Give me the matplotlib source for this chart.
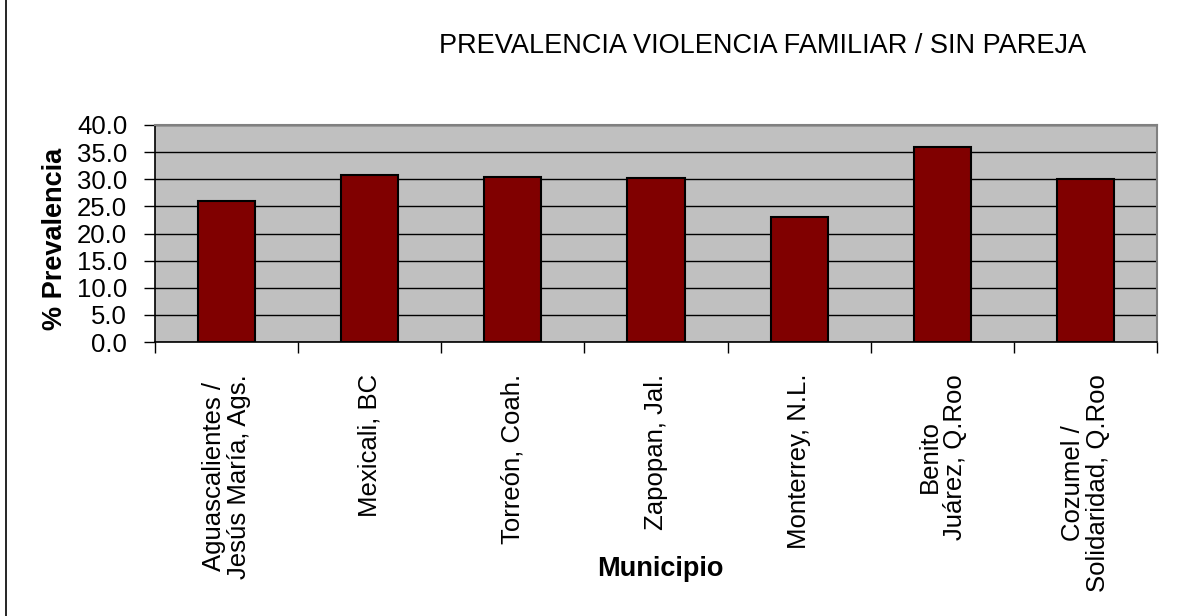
import matplotlib
matplotlib.use("Agg")
import matplotlib.pyplot as plt
from matplotlib.lines import Line2D
import numpy as np

categories = [
    "Aguascalientes /\nJesús María, Ags.",
    "Mexicali, BC",
    "Torreón, Coah.",
    "Zapopan, Jal.",
    "Monterrey, N.L.",
    "Benito\nJuárez, Q.Roo",
    "Cozumel /\nSolidaridad, Q.Roo",
]
values = [26.0, 30.8, 30.5, 30.3, 23.1, 36.0, 30.0]
yticks = [0, 5, 10, 15, 20, 25, 30, 35, 40]
ytick_labels = ["0.0", "5.0", "10.0", "15.0", "20.0", "25.0", "30.0", "35.0", "40.0"]
title = "PREVALENCIA VIOLENCIA FAMILIAR / SIN PAREJA"

plt.rcParams['font.family'] = ['Liberation Sans', 'DejaVu Sans']

W, H = 1177, 616
fig = plt.figure(figsize=(W / 100, H / 100), dpi=100)
fig.patch.set_facecolor("white")

ax = fig.add_axes([155 / W, 1 - 342 / H, (1157 - 155) / W, (342 - 125) / H])
ax.set_facecolor("#C0C0C0")

x = np.arange(len(categories))
ax.bar(x, values, width=0.4, color="#800000", edgecolor="black", linewidth=1.5, zorder=3)

ax.set_xlim(-0.5, len(categories) - 0.5)
ax.set_ylim(0, 40)
ax.set_yticks(yticks)
ax.set_yticklabels(ytick_labels, fontsize=18.5)
ax.yaxis.grid(True, color="black", linewidth=1.0, zorder=1)
ax.set_axisbelow(True)

ax.set_xticks(x)
ax.set_xticklabels(categories, rotation=90, fontsize=18.5, va="top", ha="center", linespacing=1.05)
ax.set_xticks(np.arange(-0.5, len(categories), 1.0), minor=True)
ax.tick_params(axis="x", which="major", length=0, pad=23)
ax.tick_params(axis="x", which="minor", length=8, width=1, direction="out", color="black")
ax.tick_params(axis="y", which="major", length=8, width=1, direction="out", pad=12, color="black")

for side in ("top", "right"):
    ax.spines[side].set_color("#808080")
    ax.spines[side].set_linewidth(1.5)
for side in ("left", "bottom"):
    ax.spines[side].set_color("black")
    ax.spines[side].set_linewidth(1.2)

ax.set_ylabel("% Prevalencia", fontsize=19.5, fontweight="bold")
ax.yaxis.set_label_coords((68 - 155) / 1002, 0.477)
ax.set_xlabel("Municipio", fontsize=19.5, fontweight="bold", va="top")
ax.xaxis.set_label_coords(0.504, (342 - 556) / 217)

fig.text(763 / W, 1 - 46 / H, title, fontsize=19.5, ha="center", va="center")

fig.add_artist(Line2D([5.5 / W, 5.5 / W], [0, 1], color="black", linewidth=1.2, transform=fig.transFigure))

fig.savefig("out.png", dpi=100)
